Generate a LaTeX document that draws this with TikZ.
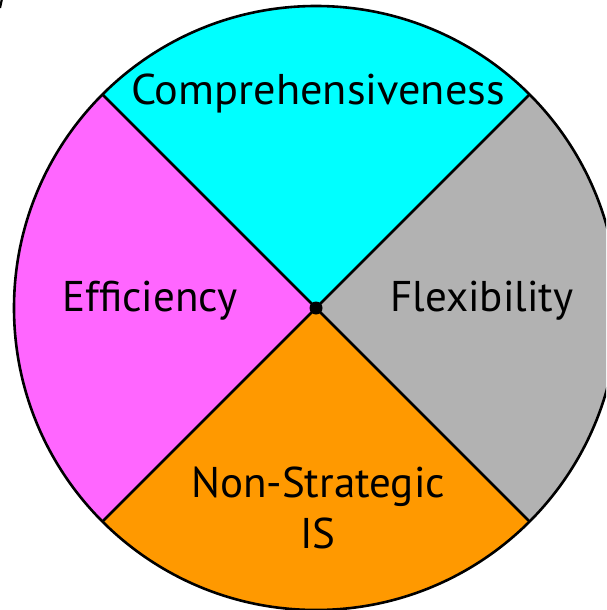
\documentclass[tikz,border=0pt]{standalone}
\usepackage{fontspec}
\setmainfont{PT Sans}
\definecolor{cyanq}{HTML}{00FFFF}
\definecolor{magq}{HTML}{FF66FF}
\definecolor{oraq}{HTML}{FF9900}
\definecolor{grayq}{HTML}{B2B2B2}
\begin{document}
\begin{tikzpicture}[x=1pt,y=-1pt,
  lbl/.style={font=\fontsize{43}{51}\selectfont, inner sep=0pt, align=center, text=black},
  edge/.style={line width=2.6pt, draw=black}]
\useasboundingbox (0,0) rectangle (606,610);
\clip (0,0) rectangle (606,610);
\coordinate (c) at (316,308);
\def\R{302}
% sectors (y axis flipped: angle measured with y downward)
\fill[cyanq] (c) -- ++(-45:\R) arc[start angle=-45, end angle=-135, radius=\R] -- cycle;
\fill[magq] (c) -- ++(-135:\R) arc[start angle=-135, end angle=-225, radius=\R] -- cycle;
\fill[oraq] (c) -- ++(135:\R) arc[start angle=135, end angle=45, radius=\R] -- cycle;
\fill[grayq] (c) -- ++(45:\R) arc[start angle=45, end angle=-45, radius=\R] -- cycle;
\path (c) ++(-45:\R) coordinate (p1);
\path (c) ++(-135:\R) coordinate (p2);
\path (c) ++(135:\R) coordinate (p3);
\path (c) ++(45:\R) coordinate (p4);
\draw[edge] (p1) -- (p3);
\draw[edge] (p2) -- (p4);
\draw[edge] (c) circle[radius=\R];
\fill (c) circle[radius=6.5];
\draw[line width=2.2pt] (1.7,0) -- (0,8);
\node[lbl] (comp) at (318,93) {\scalebox{1.03}[1]{Comprehensiveness}};
\node[lbl] (eff) at (150,301) {Efficiency};
\node[lbl] (flex) at (482,301) {Flexibility};
\node[lbl] (ns) at (318,508) {Non-Strategic\\IS};
\end{tikzpicture}
\end{document}
